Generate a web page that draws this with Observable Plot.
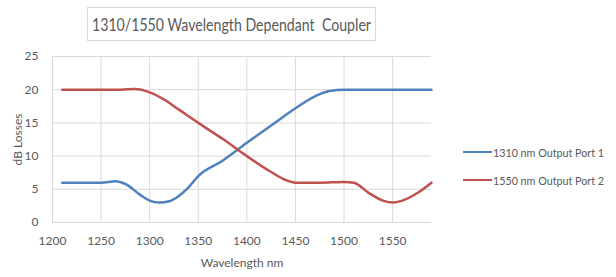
<!DOCTYPE html>
<html>
<head>
<meta charset="utf-8">
<script src="https://cdn.jsdelivr.net/npm/d3@7"></script>
<script src="https://cdn.jsdelivr.net/npm/@observablehq/plot@0.6"></script>
<style>
  body { margin: 0; background: #fff; }
  #wrap { position: relative; width: 616px; height: 277px; font-family: Lato, "Liberation Sans", sans-serif; }
  #title { position: absolute; left: 87px; top: 7px; width: 289px; height: 34px; border: 1px solid #d9d9d9; box-sizing: border-box;
           display: flex; align-items: center; justify-content: center; background: #fff; overflow: hidden; }
  #titleText { font-size: 18px; color: #595959; white-space: nowrap; display: inline-block; transform-origin: center center; }
  #legend { position: absolute; left: 463px; top: 138px; font-size: 12px; color: #595959; white-space: nowrap; }
  .item { display: flex; align-items: center; height: 28px; }
  .sw { width: 29px; height: 2.5px; margin-right: 1px; flex: none; }
  .lt { display: inline-block; transform-origin: left center; }
</style>
</head>
<body>
<div id="wrap">
  <div id="chart"></div>
  <div id="title"><span id="titleText">1310/1550 Wavelength Dependant&nbsp; Coupler</span></div>
  <div id="legend"></div>
</div>
<script>
const seriesNames = ["1310 nm Output Port 1", "1550 nm Output Port 2"];
const seriesColors = ["#4F81BD", "#C0504D"];
const port1Wavelength = [1210, 1250, 1265, 1275, 1290, 1300, 1310, 1320, 1330, 1340, 1350, 1375, 1400, 1425, 1450, 1470, 1485, 1500, 1550, 1590];
const port1Loss       = [6, 6, 6.2, 5.8, 4.2, 3.3, 3, 3.2, 4, 5.3, 7, 9.3, 12, 14.6, 17.2, 19, 19.8, 20, 20, 20];
const port2Wavelength = [1210, 1250, 1270, 1285, 1300, 1315, 1330, 1350, 1375, 1400, 1425, 1440, 1450, 1475, 1500, 1510, 1525, 1540, 1550, 1560, 1575, 1590];
const port2Loss       = [20, 20, 20, 20.1, 19.6, 18.5, 17, 15, 12.6, 10, 7.6, 6.4, 6, 6, 6.1, 6, 4.5, 3.3, 3, 3.3, 4.4, 6];
const xTicks = [1200, 1250, 1300, 1350, 1400, 1450, 1500, 1550];
const yTicks = [0, 5, 10, 15, 20, 25];

const data = [
  ...port1Wavelength.map((w, i) => ({series: seriesNames[0], w, v: port1Loss[i]})),
  ...port2Wavelength.map((w, i) => ({series: seriesNames[1], w, v: port2Loss[i]}))
];

const chart = Plot.plot({
  width: 616, height: 277,
  marginLeft: 52, marginRight: 185, marginTop: 56, marginBottom: 55,
  style: {fontFamily: 'Lato, "Liberation Sans", sans-serif', fontSize: "12px", color: "#595959", background: "transparent"},
  x: {domain: [1200, 1590]},
  y: {domain: [0, 25]},
  color: {domain: seriesNames, range: seriesColors},
  marks: [
    Plot.gridX(xTicks, {stroke: "#d9d9d9", strokeOpacity: 1}),
    Plot.gridY(yTicks, {stroke: "#d9d9d9", strokeOpacity: 1}),
    Plot.axisX({ticks: xTicks, tickFormat: "d", tickSize: 0, tickPadding: 14, fill: "#595959", label: "Wavelength nm", labelArrow: "none", labelAnchor: "center", labelOffset: 44, fontSize: 12}),
    Plot.axisY({ticks: yTicks, tickFormat: "d", tickSize: 0, tickPadding: 14, fill: "#595959", label: "dB Losses", labelArrow: "none", labelAnchor: "center", labelOffset: 39, fontSize: 12}),
    Plot.line(data, {x: "w", y: "v", z: "series", stroke: "series", strokeWidth: 2.5, curve: "monotone-x"})
  ]
});
document.getElementById("chart").appendChild(chart);

// fit title text width to the reference (~279px)
const tt = document.getElementById("titleText");
const tw = tt.getBoundingClientRect().width;
if (tw > 0) tt.style.transform = `scaleX(${Math.min(1, 279 / tw)})`;

const legend = document.getElementById("legend");
seriesNames.forEach((n, i) => {
  const d = document.createElement("div");
  d.className = "item";
  d.innerHTML = `<span class="sw" style="background:${seriesColors[i]}"></span><span class="lt">${n}</span>`;
  legend.appendChild(d);
  const lt = d.querySelector(".lt");
  const w = lt.getBoundingClientRect().width;
  if (w > 0) lt.style.transform = `scaleX(${Math.min(1, 111 / w)})`;
});
</script>
</body>
</html>
